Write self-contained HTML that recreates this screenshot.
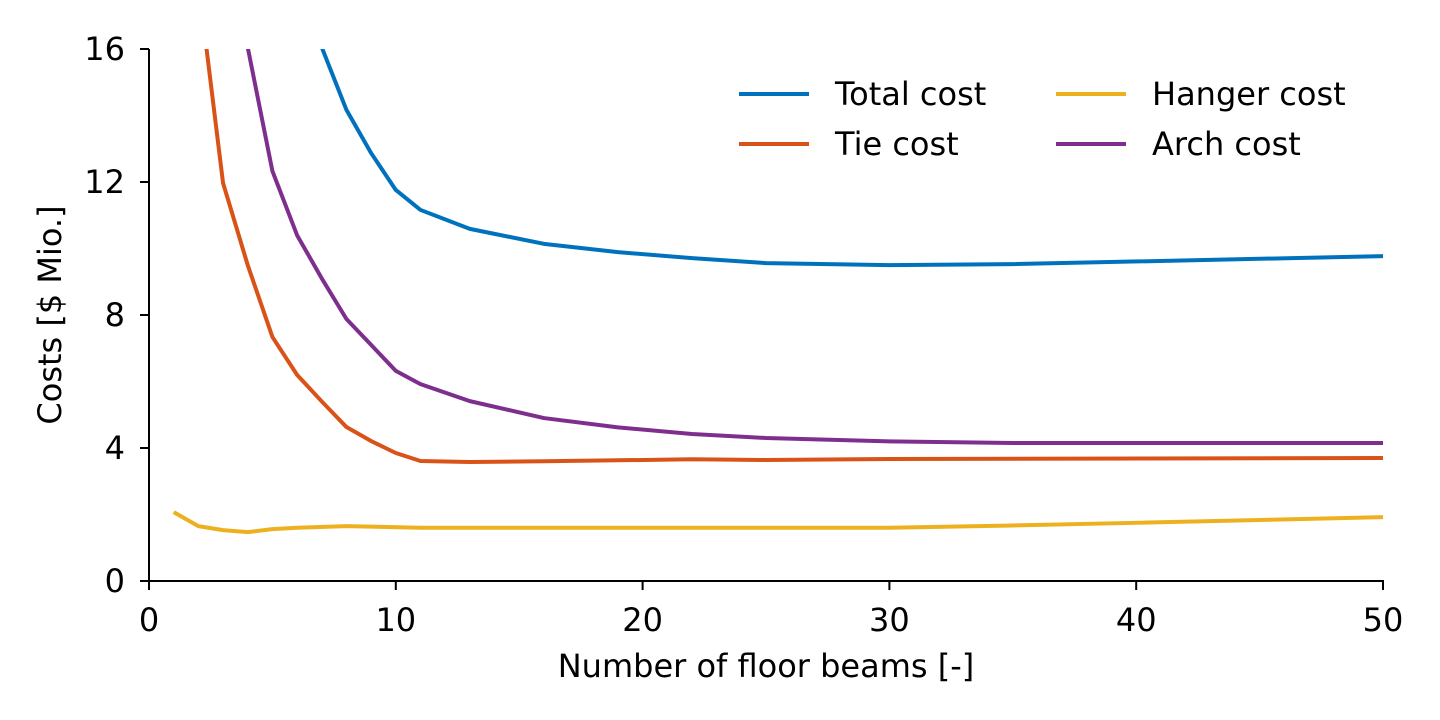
<!DOCTYPE html>
<html><head><meta charset="utf-8"><style>
html,body{margin:0;padding:0;background:#fff;}
svg{display:block;font-family:"DejaVu Sans","Liberation Sans",sans-serif;}
</style></head><body>
<svg id="chart" width="1440" height="720">
<defs><clipPath id="plotclip"><rect x="149" y="49" width="1234" height="532"/></clipPath></defs>
<g id="series" clip-path="url(#plotclip)"></g>
<g id="axes"></g>
<g id="legend"></g>
</svg>
<script>
const xTicks=[0,10,20,30,40,50];
const yTicks=[0,4,8,12,16];
const seriesNames=["Total cost","Tie cost","Hanger cost","Arch cost"];
const seriesColors=["#0072bd","#d95319","#edb120","#7e2f8e"];
const totalX=[5,6,7,8,9,10,11,13,16,19,22,25,30,35,50];
const totalY=[23,19,16.05,14.17,12.87,11.76,11.16,10.59,10.14,9.89,9.71,9.56,9.5,9.53,9.77];
const tieX=[2,3,4,5,6,7,8,9,10,11,13,16,22,25,30,50];
const tieY=[18,11.97,9.5,7.34,6.2,5.4,4.63,4.21,3.85,3.61,3.58,3.6,3.66,3.64,3.67,3.7];
const archX=[3,4,5,6,7,8,9,10,11,13,16,19,22,25,30,35,50];
const archY=[20,16.05,12.33,10.4,9.1,7.88,7.1,6.32,5.92,5.41,4.9,4.62,4.42,4.3,4.2,4.15,4.15];
const hangerX=[1,2,3,4,5,6,8,11,13,20,25,30,35,40,50];
const hangerY=[2.07,1.65,1.53,1.47,1.56,1.6,1.65,1.6,1.6,1.6,1.6,1.6,1.67,1.75,1.92];

const X0=149,X1=1383,Y0=581,Y1=49;
const FS=32;
const sx=v=>X0+(v-0)/(50-0)*(X1-X0);
const sy=v=>Y0-(v-0)/(16-0)*(Y0-Y1);
const NS="http://www.w3.org/2000/svg";
function mk(tag,attrs,parent){const e=document.createElementNS(NS,tag);for(const k in attrs)e.setAttribute(k,attrs[k]);parent.appendChild(e);return e;}
const gS=document.getElementById('series'),gA=document.getElementById('axes'),gL=document.getElementById('legend');
const data=[[totalX,totalY,"total-cost-line"],[tieX,tieY,"tie-cost-line"],[hangerX,hangerY,"hanger-cost-line"],[archX,archY,"arch-cost-line"]];
const order=[2,3,1,0];
order.forEach(i=>{
  const [xs,ys,name]=data[i];
  const p=mk('polyline',{points:xs.map((x,j)=>sx(x)+','+sy(ys[j])).join(' '),fill:'none',stroke:seriesColors[i],'stroke-width':4,'stroke-linejoin':'round'},gS);
  
  
});
const xa=mk('line',{x1:X0,y1:Y0,x2:X1+1,y2:Y0,stroke:'#000','stroke-width':2},gA);


const ya=mk('line',{x1:X0,y1:Y0+1,x2:X0,y2:Y1,stroke:'#000','stroke-width':2},gA);


xTicks.forEach(t=>{
  mk('line',{x1:sx(t),y1:Y0,x2:sx(t),y2:Y0+9,stroke:'#000','stroke-width':2},gA);
  const tx=mk('text',{x:sx(t),y:Y0+50,'text-anchor':'middle','font-size':FS},gA);
  tx.textContent=t;
  
  
});
yTicks.forEach(t=>{
  mk('line',{x1:X0-9,y1:sy(t),x2:X0,y2:sy(t),stroke:'#000','stroke-width':2},gA);
  const tx=mk('text',{x:X0-24,y:sy(t)+11,'text-anchor':'end','font-size':FS},gA);
  tx.textContent=t;
  
  
});
const xt=mk('text',{x:766,y:677,'text-anchor':'middle','font-size':FS},gA);
xt.textContent='Number of floor beams [-]';


const yt=mk('text',{x:61,y:315,'text-anchor':'middle','font-size':FS,transform:'rotate(-90 61 315)'},gA);
yt.textContent='Costs [$ Mio.]';


const lp=[[739,94],[739,144],[1056,94],[1056,144]];
seriesNames.forEach((n,i)=>{
  const [x,y]=lp[i];
  const g=mk('g',{},gL);
  
  
  mk('line',{x1:x,y1:y,x2:x+70,y2:y,stroke:seriesColors[i],'stroke-width':4},g);
  const t=mk('text',{x:x+96,y:y+11,'font-size':FS},g);
  t.textContent=n;
});
</script>
</body></html>
